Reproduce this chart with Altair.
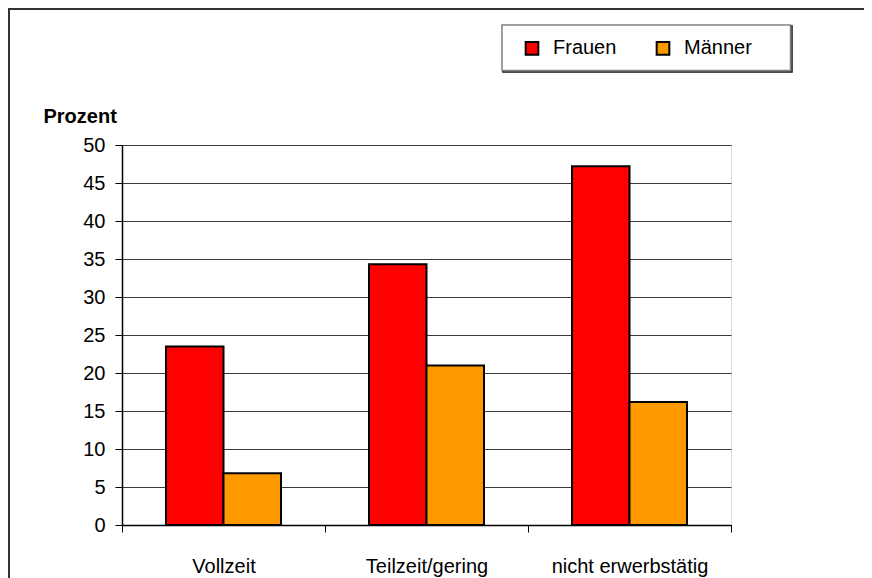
import altair as alt
import pandas as pd

categories = ["Vollzeit", "Teilzeit/gering", "nicht erwerbstätig"]
groups = ["Frauen", "Männer"]
frauen = [23.5, 34.3, 47.2]
maenner = [6.8, 21.0, 16.2]
colors = ["#FF0000", "#FF9900"]

rows = []
for c, f, m in zip(categories, frauen, maenner):
    rows.append({"Kategorie": c, "Geschlecht": "Frauen", "Prozent": f})
    rows.append({"Kategorie": c, "Geschlecht": "Männer", "Prozent": m})
df = pd.DataFrame(rows)

FONT = "Liberation Sans"
FS = 20

bars = alt.Chart(df).mark_bar(stroke="black", strokeWidth=2).encode(
    x=alt.X("Kategorie:N", sort=categories,
            scale=alt.Scale(paddingInner=0, paddingOuter=0),
            axis=alt.Axis(title=None, labelAngle=0, tickBand="extent",
                          tickSize=7, tickColor="black", domainColor="black",
                          domainWidth=1.5, labelFontSize=FS, labelFont=FONT,
                          labelColor="black", labelPadding=24, grid=False)),
    xOffset=alt.XOffset("Geschlecht:N", sort=groups,
                        scale=alt.Scale(paddingInner=0, paddingOuter=0.765)),
    y=alt.Y("Prozent:Q", scale=alt.Scale(domain=[0, 50]),
            axis=alt.Axis(title="Prozent", values=list(range(0, 51, 5)),
                          titleAngle=0, titleAlign="left", titleBaseline="alphabetic",
                          titleX=-79, titleY=-23, titleFont=FONT, titleFontSize=FS,
                          titleFontWeight="bold", titleColor="black",
                          labelFont=FONT, labelFontSize=FS, labelColor="black",
                          labelPadding=10, tickSize=7, tickColor="black",
                          domainColor="black", domainWidth=1.5,
                          grid=True, gridColor="#3a3a3a", gridWidth=1)),
    color=alt.Color("Geschlecht:N", sort=groups,
                    scale=alt.Scale(domain=groups, range=colors),
                    legend=alt.Legend(title=None, orient="none", direction="horizontal",
                                      legendX=400, legendY=-107, padding=0,
                                      symbolType="square", symbolSize=160,
                                      symbolStrokeColor="black", symbolStrokeWidth=2,
                                      symbolOpacity=1,
                                      labelFont=FONT, labelFontSize=FS, labelColor="black",
                                      labelOffset=11, columnPadding=35)),
)

one = alt.Data(values=[{}])

frame_top = alt.Chart(one).mark_rule(stroke="#333333", strokeWidth=2).encode(
    x=alt.value(-114), x2=alt.value(760), y=alt.value(-136))
frame_left = alt.Chart(one).mark_rule(stroke="#333333", strokeWidth=2).encode(
    x=alt.value(-113), y=alt.value(-137), y2=alt.value(700))

legend_shadow = alt.Chart(one).mark_rect(fill="white", stroke="#111111", strokeWidth=1.5).encode(
    x=alt.value(381), x2=alt.value(670), y=alt.value(-119), y2=alt.value(-73))
legend_box = alt.Chart(one).mark_rect(fill="white", stroke="#808080", strokeWidth=1.5).encode(
    x=alt.value(380), x2=alt.value(668.5), y=alt.value(-120), y2=alt.value(-74.5))

chart = alt.layer(frame_top, frame_left, legend_shadow, legend_box, bars).properties(
    width=609, height=380,
    autosize=alt.AutoSizeParams(type="none"),
    padding={"left": 114, "top": 137, "right": 133, "bottom": 60},
).configure_view(stroke="#808080", strokeWidth=2).configure(background="white")

chart.save("out.html", embed_options={"renderer": "svg", "actions": False})
